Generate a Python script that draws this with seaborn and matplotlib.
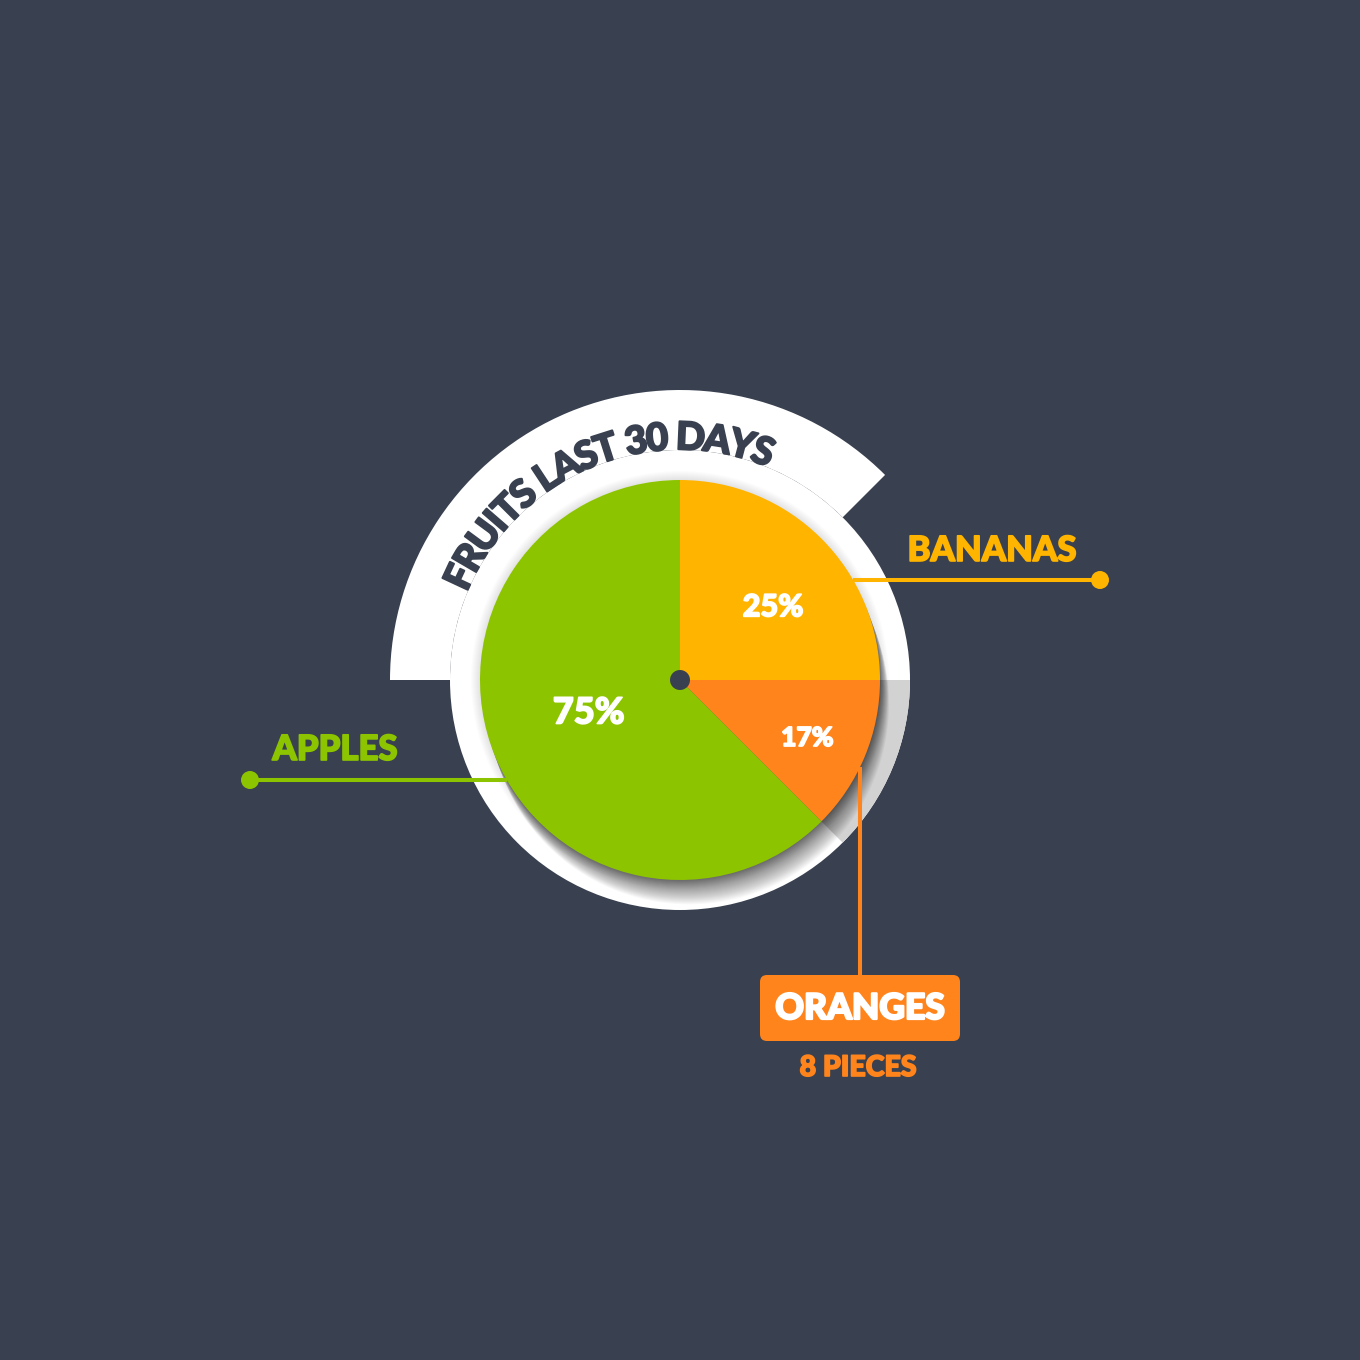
import numpy as np
import matplotlib
matplotlib.use('Agg')
import matplotlib.pyplot as plt
import matplotlib.patheffects as pe
import seaborn as sns
from matplotlib.patches import Circle, Wedge, FancyBboxPatch
from matplotlib.font_manager import FontProperties
from matplotlib.textpath import TextToPath

# values
fruits = ['Bananas', 'Oranges', 'Apples']
slice_sizes = [25, 12.5, 62.5]          # size of each wedge as drawn
pct_text = ['25%', '17%', '75%']        # what is printed on each wedge
fruit_colors = ['#FFB400', '#FF841C', '#8DC400']
title = 'FRUITS LAST 30 DAYS'
orange_note = '8 PIECES'

BG = '#394150'
INK = '#394150'
FONT = ['Lato', 'DejaVu Sans']

sns.set_theme(style='white')
plt.rcParams['font.family'] = FONT
palette = sns.color_palette(fruit_colors)

W = H = 1360


def Y(row):
    # picture rows run downwards, data y runs upwards
    return H - row


def heavy(color, w=1.2):
    # fatten the bold face a little, with rounded joins
    return [pe.withStroke(linewidth=w, foreground=color, joinstyle='round')]


fig = plt.figure(figsize=(13.6, 13.6), dpi=100, facecolor=BG)
ax = fig.add_axes([0, 0, 1, 1])

cx, cy = 680, 680
R = 200

# white backing disc and the ring that carries the title
disc = Circle((cx, cy), 230, fc='white', lw=0, zorder=1)
ax.add_patch(disc)
ax.add_patch(Wedge((cx, cy), 290, 45, 180, width=60, fc='white', lw=0, zorder=1))
ax.add_patch(Wedge((cx, cy), 230, -45, 0, fc='#d2d2d2', lw=0, zorder=1.5))

# long shadow of the pie falling down and a bit right, plus a soft halo
for k in range(1, 27):
    c = Circle((cx + 0.35 * k, cy - 0.94 * k), R, fc='black', alpha=0.024,
               lw=0, zorder=2)
    ax.add_patch(c)
    c.set_clip_path(disc)
for k in range(1, 10):
    c = Circle((cx, cy), R + k, fc='black', alpha=0.01, lw=0, zorder=2)
    ax.add_patch(c)
    c.set_clip_path(disc)

# leader lines
lw = 2.9
yb = Y(580)
xb = cx + np.sqrt(R**2 - (yb - cy)**2)
ax.plot([xb, 1100], [yb, yb], color=palette[0], lw=lw, zorder=3, solid_capstyle='butt')
ax.add_patch(Circle((1100, yb), 9, fc=palette[0], lw=0, zorder=3))

ya = Y(780)
xa = cx - np.sqrt(R**2 - (ya - cy)**2)
ax.plot([250, xa], [ya, ya], color=palette[2], lw=lw, zorder=3, solid_capstyle='butt')
ax.add_patch(Circle((250, ya), 9, fc=palette[2], lw=0, zorder=3))

xo = 860
yo = cy - np.sqrt(R**2 - (xo - cx)**2)
ax.plot([xo, xo], [yo, Y(975)], color=palette[1], lw=lw, zorder=3, solid_capstyle='butt')

# the pie
wedges, _ = ax.pie(slice_sizes, colors=palette, startangle=90, counterclock=False,
                   radius=R, center=(cx, cy),
                   wedgeprops=dict(lw=0, zorder=4))
ax.add_patch(Circle((cx, cy), 10, fc=INK, lw=0, zorder=5))

# percentages on the wedges
pct_dist = [0.59, 0.70, 0.485]
pct_turn = [-7, -2, -2.6]
pct_size = [22, 19, 26]
for w, t, d, a, s in zip(wedges, pct_text, pct_dist, pct_turn, pct_size):
    mid = np.deg2rad((w.theta1 + w.theta2) / 2 + a)
    ax.text(cx + d * R * np.cos(mid), cy + d * R * np.sin(mid), t,
            ha='center', va='center', fontsize=s, fontweight='black',
            color='white', zorder=6, path_effects=heavy('white'))

# category labels
ax.text(992, Y(551), fruits[0].upper(), ha='center', va='center', fontsize=25,
        fontweight='black', color=palette[0], zorder=6, path_effects=heavy(palette[0]))
ax.text(335, Y(750), fruits[2].upper(), ha='center', va='center', fontsize=25,
        fontweight='black', color=palette[2], zorder=6, path_effects=heavy(palette[2]))
ax.add_patch(FancyBboxPatch((760, Y(1041)), 200, 66,
                            boxstyle='round,pad=0,rounding_size=7',
                            fc=palette[1], lw=0, zorder=5))
ax.text(860, Y(1009), fruits[1].upper(), ha='center', va='center', fontsize=25.5,
        fontweight='black', color='white', zorder=6, path_effects=heavy('white', 1.6))
ax.text(858, Y(1068), orange_note, ha='center', va='center', fontsize=20.5,
        fontweight='black', color=palette[1], zorder=6, path_effects=heavy(palette[1]))

# curved title along the ring
t2p = TextToPath()
fp = FontProperties(family=FONT, weight='black', size=10)


def width_px(s):
    return t2p.get_text_width_height_descent(s, fp, ismath=False)[0] * 100 / 72


centers = np.array([width_px(title[:i + 1]) - width_px(ch) / 2
                    for i, ch in enumerate(title)])
centers -= centers[0]
R_t = 242
a0, a1 = 155, 70
target = np.deg2rad(a0 - a1) * R_t
scale = target / centers[-1]
fs = 10 * scale * 1.05
for ch, s in zip(title, centers * scale):
    if ch == ' ':
        continue
    th = np.deg2rad(a0) - s / R_t
    ax.text(cx + R_t * np.cos(th), cy + R_t * np.sin(th), ch,
            rotation=np.rad2deg(th) - 90, rotation_mode='anchor',
            ha='center', va='center', fontsize=fs, fontweight='black',
            color=INK, zorder=6, path_effects=heavy(INK, 1.4))

ax.set_xlim(0, W)
ax.set_ylim(0, H)
ax.set_aspect('equal')
ax.axis('off')

fig.savefig('out.png', dpi=100, facecolor=BG)
